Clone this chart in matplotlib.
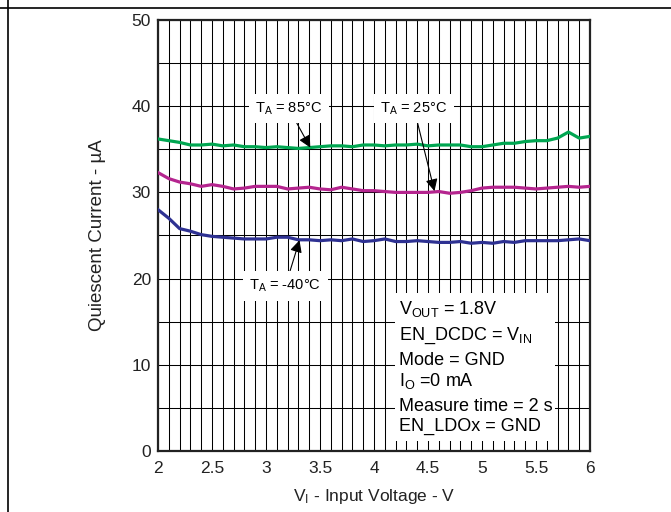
import numpy as np
import matplotlib
matplotlib.use("Agg")
import matplotlib.pyplot as plt
from matplotlib.ticker import MultipleLocator
from matplotlib.patches import Rectangle
from matplotlib.lines import Line2D

plt.rcParams['font.family'] = ['Liberation Sans', 'DejaVu Sans']
plt.rcParams['mathtext.fontset'] = 'custom'
plt.rcParams['mathtext.rm'] = 'Liberation Sans'
plt.rcParams['mathtext.it'] = 'Liberation Sans'

# ---- data ----
v_in = [2.0, 2.1, 2.2, 2.3, 2.4, 2.5, 2.6, 2.7, 2.8, 2.9, 3.0, 3.1, 3.2, 3.3, 3.4,
        3.5, 3.6, 3.7, 3.8, 3.9, 4.0, 4.1, 4.2, 4.3, 4.4, 4.5, 4.6, 4.7, 4.8, 4.9,
        5.0, 5.1, 5.2, 5.3, 5.4, 5.5, 5.6, 5.7, 5.8, 5.9, 6.0]
iq_85 = [36.2, 36.0, 35.8, 35.5, 35.5, 35.6, 35.4, 35.5, 35.3, 35.3, 35.2, 35.3, 35.2,
         35.1, 35.2, 35.3, 35.4, 35.4, 35.3, 35.5, 35.5, 35.4, 35.5, 35.5, 35.6, 35.4,
         35.5, 35.5, 35.5, 35.3, 35.3, 35.5, 35.7, 35.7, 35.9, 36.0, 36.0, 36.3, 37.0,
         36.3, 36.5]
iq_25 = [32.3, 31.6, 31.2, 31.0, 30.7, 30.9, 30.7, 30.4, 30.5, 30.7, 30.7, 30.7, 30.4,
         30.5, 30.6, 30.4, 30.3, 30.6, 30.4, 30.2, 30.2, 30.1, 30.0, 30.0, 30.0, 30.0,
         30.1, 29.9, 30.0, 30.2, 30.5, 30.6, 30.6, 30.6, 30.5, 30.4, 30.5, 30.6, 30.7,
         30.6, 30.7]
iq_m40 = [28.0, 27.0, 25.8, 25.5, 25.1, 24.9, 24.8, 24.7, 24.6, 24.6, 24.6, 24.8, 24.8,
          24.5, 24.5, 24.4, 24.5, 24.4, 24.6, 24.3, 24.4, 24.6, 24.3, 24.3, 24.4, 24.3,
          24.2, 24.2, 24.3, 24.1, 24.2, 24.1, 24.3, 24.2, 24.4, 24.4, 24.4, 24.4, 24.5,
          24.6, 24.4]
x_ticks = [2, 2.5, 3, 3.5, 4, 4.5, 5, 5.5, 6]
x_tick_labels = ['2', '2.5', '3', '3.5', '4', '4.5', '5', '5.5', '6']
y_ticks = [0, 10, 20, 30, 40, 50]
y_tick_labels = ['0', '10', '20', '30', '40', '50']
conditions = [r'$\mathregular{V_{OUT}}$ = 1.8V',
              r'EN_DCDC = $\mathregular{V_{IN}}$',
              'Mode = GND',
              r'$\mathregular{I_O}$ =0 mA',
              'Measure time = 2 s',
              'EN_LDOx = GND']

# ---- figure ----
W, H = 671, 512
fig = plt.figure(figsize=(W / 100, H / 100), dpi=100)
ax = fig.add_axes([158 / W, (H - 451) / H, 432 / W, 431 / H])

# outer frame lines (top and left)
fig.add_artist(Line2D([0, 1], [1 - 7.5 / H, 1 - 7.5 / H], transform=fig.transFigure,
                      color='black', lw=1.2))
fig.add_artist(Line2D([7.5 / W, 7.5 / W], [0, 1], transform=fig.transFigure,
                      color='black', lw=1.2))

ax.set_xlim(2, 6)
ax.set_ylim(0, 50)
ax.xaxis.set_minor_locator(MultipleLocator(0.1))
ax.yaxis.set_minor_locator(MultipleLocator(5))
ax.set_xticks(x_ticks)
ax.set_xticklabels(x_tick_labels)
ax.set_yticks(y_ticks)
ax.set_yticklabels(y_tick_labels)
ax.grid(True, which='both', color='black', lw=0.75)
ax.set_axisbelow(True)
ax.tick_params(which='both', length=0, labelsize=12.5, colors='#222222')
ax.tick_params(axis='x', pad=7)
ax.tick_params(axis='y', pad=5)
for s in ax.spines.values():
    s.set_linewidth(1.6)
    s.set_color('#222222')

ax.plot(v_in, iq_85, color='#00A651', lw=2.3, zorder=3)
ax.plot(v_in, iq_25, color='#B5258F', lw=2.3, zorder=3)
ax.plot(v_in, iq_m40, color='#2E3192', lw=2.3, zorder=3)

ax.set_xlabel(r'$\mathregular{V_I}$ - Input Voltage - V', fontsize=12.5,
              color='#222222', va='center')
ax.set_ylabel('Quiescent Current - µA', fontsize=13.5, color='#222222', va='center')
ax.xaxis.set_label_coords(0.5, -0.106)
ax.yaxis.set_label_coords(-0.139, 0.5)

bbox = dict(boxstyle='square,pad=0.45', fc='white', ec='none')
arrow = dict(arrowstyle='-|>', color='black', lw=0.8, mutation_scale=18,
             shrinkA=0, shrinkB=0)
ax.annotate(r'$\mathregular{T_A}$ = 85°C', xy=(3.41, 35.2), xytext=(3.21, 39.3),
            ha='center', va='baseline', fontsize=10.5, bbox=bbox, arrowprops=arrow,
            zorder=4)
ax.annotate(r'$\mathregular{T_A}$ = 25°C', xy=(4.56, 30.15), xytext=(4.37, 39.3),
            ha='center', va='baseline', fontsize=10.5, bbox=bbox, arrowprops=arrow,
            zorder=4)
ax.annotate(r'$\mathregular{T_A}$ = -40°C', xy=(3.31, 24.45), xytext=(3.18, 18.7),
            ha='center', va='baseline', fontsize=10.5, bbox=bbox, arrowprops=arrow,
            zorder=4)

ax.add_patch(Rectangle((4.19, 1.2), 1.49, 17.1, fc='white', ec='none', zorder=2))
cond_y = [15.9, 12.9, 10.0, 7.55, 4.65, 2.35]
for txt, yy in zip(conditions, cond_y):
    ax.text(4.23, yy, txt, ha='left', va='baseline', fontsize=13, zorder=4)

fig.savefig('out.png', dpi=100)
